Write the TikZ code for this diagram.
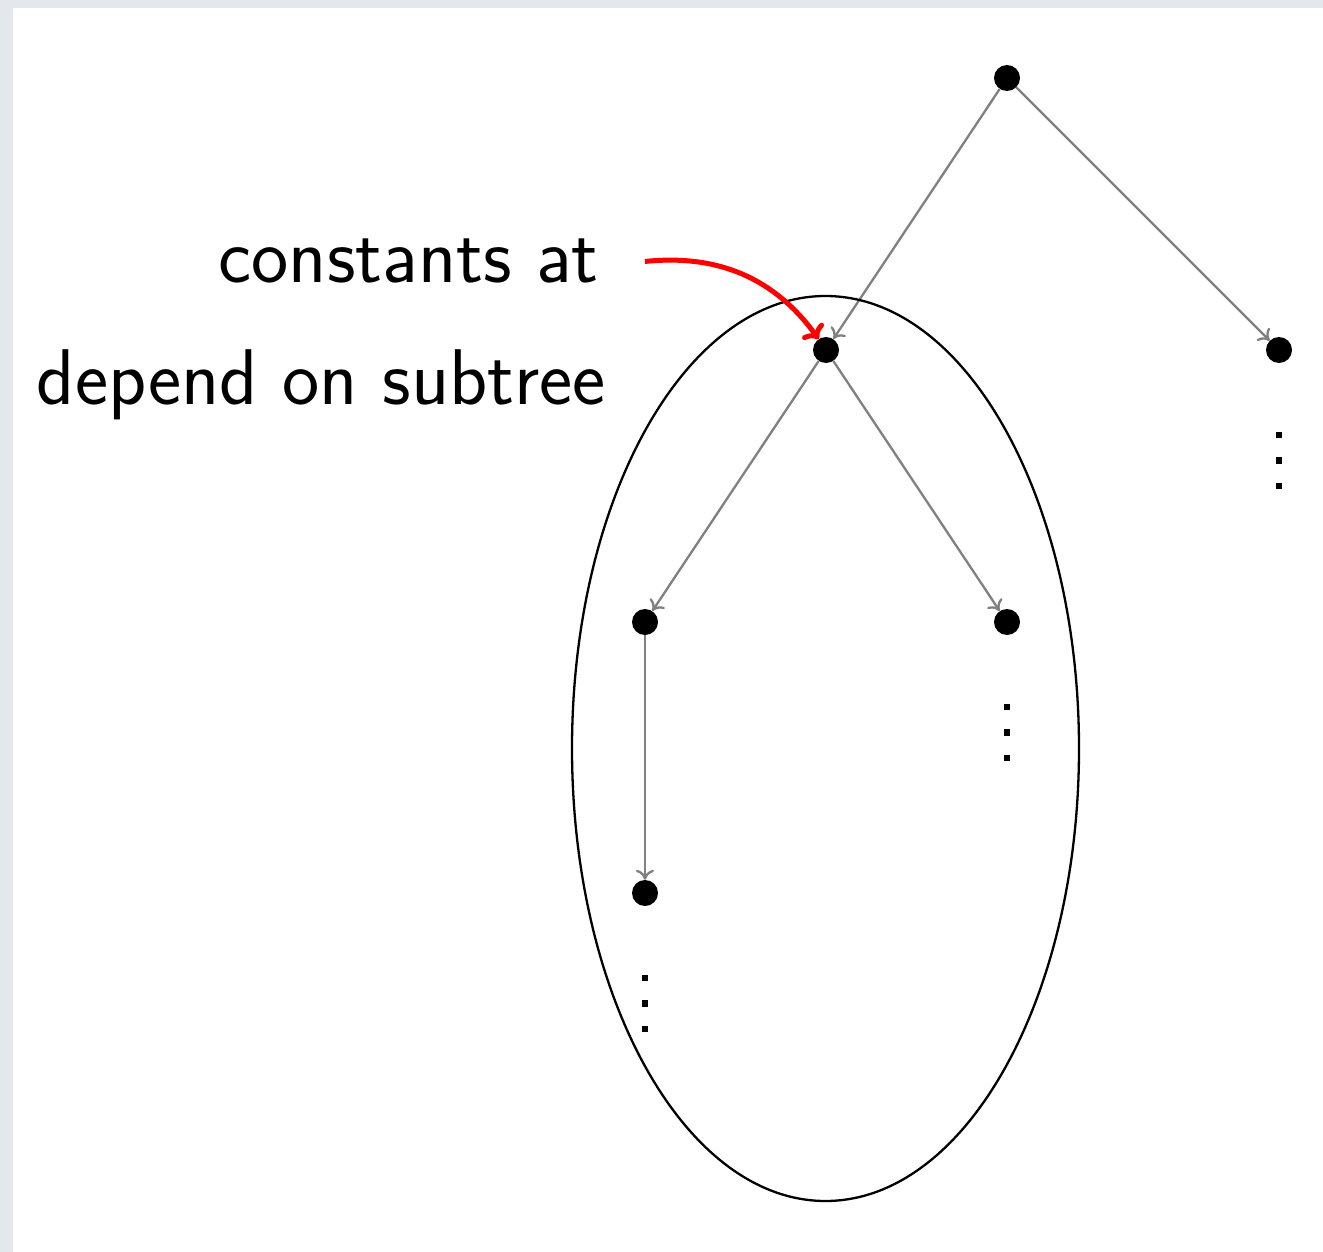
\documentclass[tikz,border=0pt]{standalone}
\usepackage{fontspec}
\usetikzlibrary{arrows.meta,shapes.geometric}
\definecolor{frame}{RGB}{228,231,235}
\begin{document}
\begin{tikzpicture}[x=1pt,y=-1pt,
  dot/.style={circle,fill=black,inner sep=0pt,minimum size=26pt},
  edge/.style={draw=gray,line width=2.3pt,-{To[length=10pt,width=18pt]}},
  vd/.style={fill=black,minimum size=6.5pt,inner sep=0pt,rectangle},
  lbl/.style={font=\sffamily\fontsize{79}{85}\selectfont,inner sep=0pt}]
\fill[frame] (0,0) rectangle (1323,1252);
\fill[white] (13,8) rectangle (1323,1252);
\useasboundingbox (0,0) rectangle (1323,1252);
\node[dot] (r) at (1007,78) {};
\node[dot] (a) at (826,350) {};
\node[dot] (b) at (1279,350) {};
\node[dot] (c) at (645,622) {};
\node[dot] (d) at (1007,622) {};
\node[dot] (e) at (645,893) {};
\draw[edge] (r) -- (a);
\draw[edge] (r) -- (b);
\draw[edge] (a) -- (c);
\draw[edge] (a) -- (d);
\draw[edge] (c) -- (e);
\foreach \n/\x/\y in {b/1279/350,d/1007/622,e/645/893}{
  \node[vd] (\n1) at (\x,\y+85) {};
  \node[vd] (\n2) at (\x,\y+110.5) {};
  \node[vd] (\n3) at (\x,\y+136) {};
}
\node[draw,ellipse,line width=2.3pt,minimum width=507pt,minimum height=905pt,inner sep=0pt] (ell) at (825.5,748.5) {};
\node[lbl,anchor=base east] (t1) at (599,283) {constants at};
\node[lbl,anchor=base east] (t2) at (606,404) {depend on subtree};
\draw[red,line width=5pt,-{To[length=12pt,width=26pt]}] ([xshift=46pt]t1.east) to[bend left=30] (a);
\end{tikzpicture}
\end{document}
